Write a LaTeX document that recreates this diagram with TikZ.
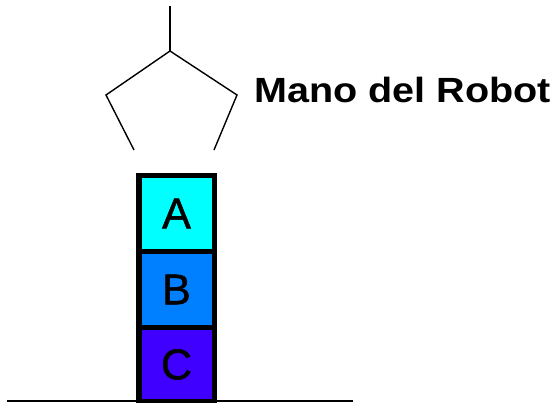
\documentclass[tikz,border=0pt]{standalone}
\usepackage{fontspec}
\setmainfont{Liberation Sans}
\newfontfamily\blockfont[FakeBold=1.2]{Liberation Sans}
\begin{document}
\begin{tikzpicture}[x=1pt,y=-1pt,
  block/.style={draw=black,line width=5.5pt,minimum width=75.5pt,minimum height=73pt,inner sep=0pt,font=\blockfont\fontsize{43}{43}\selectfont},
  hand/.style={draw=black,line width=1.4pt},
  ground/.style={draw=black,line width=2pt}]
\useasboundingbox (0,0) rectangle (555,403);
\definecolor{blockA}{RGB}{0,255,255}
\definecolor{blockB}{RGB}{0,128,255}
\definecolor{blockC}{RGB}{64,0,255}
% stacked blocks
\node[block,fill=blockA,minimum height=76pt] (A) at (176.5,213.5) {A};
\node[block,fill=blockB,minimum height=76pt] (B) at (176.5,289.5) {B};
\node[block,fill=blockC,minimum height=74pt] (C) at (176.5,364.5) {C};
% table surface
\coordinate (g1) at (7,401.5);
\coordinate (g2) at (353,401.5);
\draw[ground] (g1) -- (g2);
% robot hand
\coordinate (stemtop) at (170,6);
\coordinate (apex) at (170,51);
\coordinate (lv) at (106,95);
\coordinate (rv) at (237,95);
\coordinate (lf) at (134,150);
\coordinate (rf) at (214,150);
\draw[hand,line width=2pt] (stemtop) -- (apex);
\draw[hand] (lf) -- (lv) -- (apex) -- (rv) -- (rf);
\node[anchor=base west,inner sep=0pt,font=\bfseries\fontsize{35}{35}\selectfont,xscale=1.13] (label) at (254,103) {Mano del Robot};
\end{tikzpicture}
\end{document}
